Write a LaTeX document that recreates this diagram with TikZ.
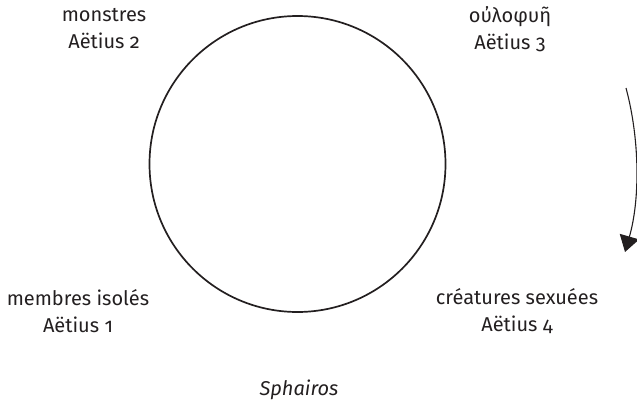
\documentclass[tikz,border=0pt]{standalone}
\usepackage{fontspec}
\setmainfont[Numbers=OldStyle]{Fira Sans}
\usetikzlibrary{arrows.meta}
\definecolor{ink}{HTML}{231F20}
\begin{document}
\begin{tikzpicture}[x=1pt,y=-1pt,
  lbl/.style={text=ink,font=\fontsize{20}{27}\selectfont,align=center,inner sep=0pt}]
\useasboundingbox (0,0) rectangle (637,404);
\node[circle,draw=ink,line width=1.7pt,minimum size=296pt,inner sep=0pt] (c) at (297.5,164) {};
\node[lbl] (m) at (104,29) {monstres\\Aëtius 2};
\node[lbl] (o) at (510,29) {οὐλοφυῆ\\Aëtius 3};
\node[lbl] (i) at (78,311) {membres isolés\\Aëtius 1};
\node[lbl] (s) at (517,311) {créatures sexuées\\Aëtius 4};
\node[lbl,font=\fontsize{20}{27}\selectfont\itshape] (sp) at (299,390) {Sphairos};
\coordinate (a0) at (626,88);
\coordinate (a1) at (625,252);
\draw[ink,line width=1.1pt,-{Triangle[length=16pt,width=20pt]}] (a0) .. controls (640,140) and (640,200) .. (a1);
\end{tikzpicture}
\end{document}
